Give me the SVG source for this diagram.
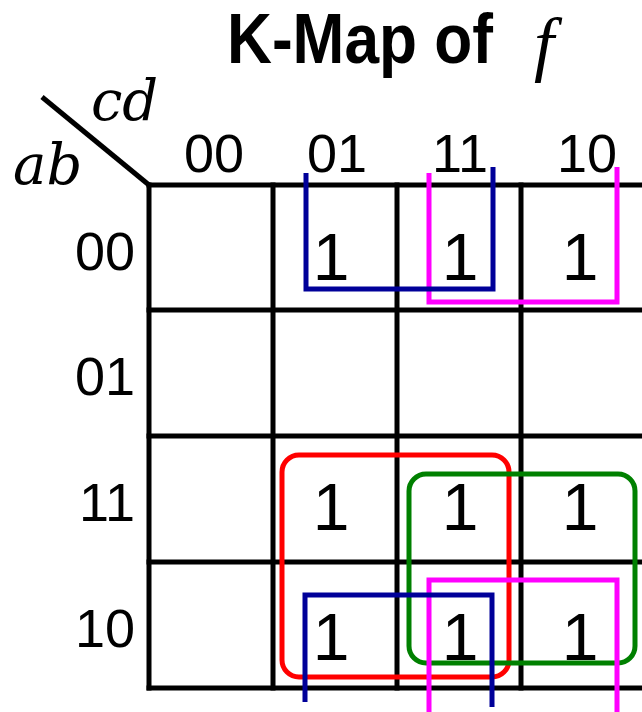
<svg xmlns="http://www.w3.org/2000/svg" width="642" height="712" viewBox="0 0 642 712">
<style>
.grid{stroke:#000;stroke-width:5;fill:none;stroke-linecap:square}
.hdr{font-family:"Liberation Sans",Arial,sans-serif;font-size:54px;fill:#000}
.one{font-family:"Liberation Sans",Arial,sans-serif;font-size:66px;fill:#000;text-anchor:middle}
.var{font-family:"DejaVu Serif",serif;font-style:italic;font-size:56px;fill:#000}
.loop{fill:none;stroke-width:5;stroke-linejoin:miter}
</style>
<rect width="642" height="712" fill="#fff"/>
<g id="title">
<text x="227" y="63" font-family="Liberation Sans,Arial,sans-serif" font-weight="bold" font-size="70" textLength="266" lengthAdjust="spacingAndGlyphs">K-Map of</text>
<text x="534" y="68" font-family="Liberation Serif,serif" font-style="italic" font-size="72">f</text>
</g>
<g id="corner">
<line x1="42" y1="97" x2="149" y2="185" stroke="#000" stroke-width="5"/>
<text class="var" x="91" y="120">cd</text>
<text class="var" x="13" y="184">ab</text>
</g>
<g id="grid" class="grid">
<line x1="149" y1="185" x2="700" y2="185"/>
<line x1="149" y1="310" x2="700" y2="310"/>
<line x1="149" y1="436" x2="700" y2="436"/>
<line x1="149" y1="562" x2="700" y2="562"/>
<line x1="149" y1="688" x2="700" y2="688"/>
<line x1="149" y1="185" x2="149" y2="688"/>
<line x1="273" y1="185" x2="273" y2="688"/>
<line x1="397" y1="185" x2="397" y2="688"/>
<line x1="521" y1="185" x2="521" y2="688"/>
</g>
<g id="col-headers" class="hdr" text-anchor="middle">
<text x="214" y="172">00</text>
<text x="337" y="172">01</text>
<text x="460" y="172">11</text>
<text x="587" y="172">10</text>
</g>
<g id="row-headers" class="hdr" text-anchor="end">
<text x="135" y="270">00</text>
<text x="135" y="395">01</text>
<text x="135" y="521">11</text>
<text x="135" y="647">10</text>
</g>
<g id="cells">
<text class="one" x="331" y="280">1</text>
<text class="one" x="460" y="280">1</text>
<text class="one" x="580" y="280">1</text>
<text class="one" x="331" y="530">1</text>
<text class="one" x="460" y="530">1</text>
<text class="one" x="580" y="530">1</text>
<text class="one" x="331" y="660">1</text>
<text class="one" x="460" y="660">1</text>
<text class="one" x="580" y="660">1</text>
</g>
<g id="connectors">
<rect id="loop-red" class="loop" stroke="#ff0000" x="282" y="455" width="227" height="222" rx="17"/>
<rect id="loop-green" class="loop" stroke="#008000" x="409" y="474" width="226" height="189" rx="17"/>
<path id="loop-magenta-top" class="loop" stroke="#ff00ff" d="M429,173 V302 H617 V167"/>
<path id="loop-magenta-bottom" class="loop" stroke="#ff00ff" d="M429,712 V580 H617 V712"/>
<path id="loop-blue-top" class="loop" stroke="#000099" d="M306,173 V289 H493 V167"/>
<path id="loop-blue-bottom" class="loop" stroke="#000099" d="M305,702 V595 H492 V707"/>
</g>
</svg>
